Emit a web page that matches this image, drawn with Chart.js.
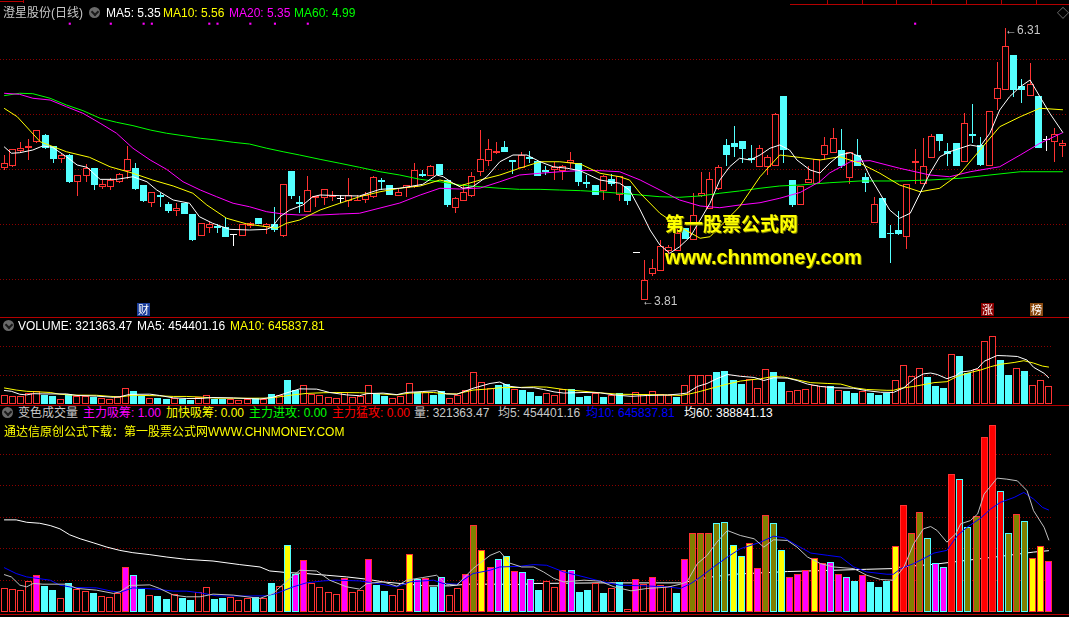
<!DOCTYPE html>
<html>
<head>
<meta charset="utf-8">
<script src="https://cdn.jsdelivr.net/npm/chart.js@4.4.1/dist/chart.umd.min.js"></script>
<style>
body{margin:0;background:#000;}
#wrap{position:relative;width:1069px;height:617px;overflow:hidden;background:#000;font-family:"Liberation Sans","Noto Sans CJK SC",sans-serif;}
canvas{position:absolute;left:0;}
.t{position:absolute;font-size:12px;line-height:14px;white-space:nowrap;z-index:5;}
.ico{position:absolute;width:11px;height:11px;border-radius:50%;background:#6a6a6a;z-index:5;}
.ico:after{content:'';position:absolute;left:3px;top:2px;width:4px;height:4px;border-right:2px solid #1a1a1a;border-bottom:2px solid #1a1a1a;transform:rotate(45deg);}
.hl{position:absolute;height:1px;background:#b40000;z-index:4;}
.vt{position:absolute;width:1px;background:#b40000;z-index:4;}
.tag{position:absolute;width:13px;height:13px;font-size:11px;line-height:13px;text-align:center;color:#fff;z-index:5;font-family:"Noto Sans CJK SC",sans-serif;}
.wm{position:absolute;color:#ffff00;font-weight:bold;z-index:6;white-space:nowrap;text-shadow:1px 1px 0 #7a7a00;}
</style>
</head>
<body>
<div id="wrap">
  <canvas id="price" width="1067" height="298" style="top:18px"></canvas>
  <canvas id="vol" width="1053" height="71" style="top:333px"></canvas>
  <canvas id="ind" width="1053" height="192" style="top:420px"></canvas>

  <div class="hl" style="left:0;width:23px;top:1px"></div>
  <div class="vt" style="left:23px;top:0;height:3px"></div>
  <div class="hl" style="left:790px;width:279px;top:4px"></div>
  <div class="vt" style="left:827px;top:0;height:4px"></div>
  <div class="vt" style="left:862px;top:0;height:4px"></div>
  <div class="vt" style="left:896px;top:0;height:4px"></div>
  <div class="vt" style="left:931px;top:0;height:4px"></div>
  <div class="vt" style="left:966px;top:0;height:4px"></div>
  <div class="vt" style="left:1001px;top:0;height:4px"></div>
  <div class="vt" style="left:1036px;top:0;height:4px"></div>
  <div class="hl" style="left:0;width:1069px;top:317px"></div>
  <div class="hl" style="left:0;width:1069px;top:405px"></div>
  <div class="hl" style="left:0;width:1069px;top:614px"></div>

  <div class="t" style="left:3px;top:6px;color:#c8c8c8">澄星股份(日线)</div>
  <div class="ico" style="left:89px;top:7px"></div>
  <div class="t" style="left:106px;top:6px;color:#ffffff">MA5: 5.35</div>
  <div class="t" style="left:163px;top:6px;color:#ffff00">MA10: 5.56</div>
  <div class="t" style="left:229px;top:6px;color:#ff00ff">MA20: 5.35</div>
  <div class="t" style="left:294px;top:6px;color:#00ff00">MA60: 4.99</div>
  <div class="t" style="left:1057px;top:7px;color:#909090">◇</div>

  <div class="t" style="left:1005px;top:23px;color:#c8c8c8">←6.31</div>
  <div class="t" style="left:642px;top:294px;color:#c8c8c8">←3.81</div>
  <div class="tag" style="left:137px;top:303px;background:#1c3f9c">财</div>
  <div class="tag" style="left:981px;top:303px;background:#8c0000">涨</div>
  <div class="tag" style="left:1030px;top:303px;background:#8a4a10">榜</div>
  <div class="wm" style="left:665px;top:213px;font-size:19px;line-height:20px;font-family:'Noto Sans CJK SC',sans-serif">第一股票公式网</div>
  <div class="wm" style="left:665px;top:247px;font-size:20px;line-height:20px;font-family:'Liberation Sans',sans-serif">www.chnmoney.com</div>

  <div class="ico" style="left:3px;top:320px"></div>
  <div class="t" style="left:18px;top:319px;color:#ffffff">VOLUME: 321363.47</div>
  <div class="t" style="left:137px;top:319px;color:#ffffff">MA5: 454401.16</div>
  <div class="t" style="left:230px;top:319px;color:#ffff00">MA10: 645837.81</div>

  <div class="ico" style="left:2px;top:407px"></div>
  <div class="t" style="left:18px;top:406px;color:#c8c8c8">变色成交量</div>
  <div class="t" style="left:83px;top:406px;color:#ff00ff">主力吸筹: 1.00</div>
  <div class="t" style="left:166px;top:406px;color:#ffff00">加快吸筹: 0.00</div>
  <div class="t" style="left:249px;top:406px;color:#00ff00">主力进攻: 0.00</div>
  <div class="t" style="left:332px;top:406px;color:#ff0000">主力猛攻: 0.00</div>
  <div class="t" style="left:414px;top:406px;color:#c8c8c8">量: 321363.47</div>
  <div class="t" style="left:498px;top:406px;color:#c8c8c8">均5: 454401.16</div>
  <div class="t" style="left:586px;top:406px;color:#0000ff">均10: 645837.81</div>
  <div class="t" style="left:684px;top:406px;color:#ffffff">均60: 388841.13</div>
  <div class="t" style="left:4px;top:425px;color:#ffff00">通达信原创公式下载：第一股票公式网WWW.CHNMONEY.COM</div>
</div>

<script>
// daily candles, 130 sessions
const opens = [5.02,5.04,5.18,5.21,5.26,5.33,5.23,5.11,5.14,4.90,
4.95,5.02,4.85,4.85,4.90,5.00,5.02,4.87,4.70,4.78,
4.69,4.63,4.70,4.60,4.40,4.47,4.49,4.48,4.41,4.40,
4.49,4.56,4.48,4.51,4.40,5.00,4.71,4.62,4.75,4.75,
4.76,4.74,4.72,4.72,4.73,4.76,4.91,4.87,4.77,4.84,
4.85,4.97,4.95,5.06,4.91,4.66,4.72,4.77,4.99,5.09,
5.16,5.22,5.10,5.02,5.13,5.09,5.01,5.01,5.00,5.07,
5.07,4.90,4.87,4.81,4.92,4.78,4.86,4.24,3.81,4.05,
4.08,4.26,4.26,4.47,4.36,4.77,4.65,4.83,5.24,5.25,
5.27,5.12,5.03,5.03,5.04,5.69,4.91,4.68,4.89,4.88,
5.14,5.16,5.19,4.93,5.14,4.94,4.52,4.75,4.43,4.45,
4.39,5.07,4.88,5.12,5.34,5.18,5.25,5.08,5.34,5.24,
5.04,5.66,5.74,6.06,5.78,5.69,5.69,5.28,5.26,5.23];
const highs = [5.14,5.20,5.26,5.29,5.37,5.34,5.23,5.15,5.15,4.96,
5.06,5.02,4.91,4.93,4.98,5.23,5.07,4.87,4.80,4.79,
4.71,4.70,4.70,4.60,4.52,4.53,4.51,4.56,4.42,4.51,
4.53,4.56,4.52,4.67,4.88,5.00,4.77,4.95,4.77,4.83,
4.81,4.78,4.93,4.78,4.80,4.95,4.93,4.87,4.83,4.87,
5.07,5.01,5.05,5.06,4.91,4.76,4.88,4.99,5.37,5.29,
5.26,5.27,5.10,5.17,5.18,5.10,5.04,5.08,5.05,5.17,
5.07,4.96,4.87,4.96,4.97,4.95,4.86,4.24,4.18,4.19,
4.36,4.32,4.49,4.47,4.79,4.99,4.99,5.05,5.29,5.41,
5.27,5.24,5.24,5.14,5.53,5.69,4.91,4.86,5.04,5.11,
5.31,5.39,5.38,5.17,5.29,4.98,4.76,4.75,4.50,4.63,
4.88,5.20,5.30,5.34,5.34,5.25,5.25,5.53,5.61,5.31,
5.55,6.00,6.31,6.06,5.84,5.99,5.69,5.32,5.39,5.28];
const lows = [5.01,5.03,5.17,5.10,5.25,5.20,5.07,5.07,4.89,4.77,
4.90,4.82,4.83,4.82,4.89,4.92,4.82,4.71,4.67,4.67,
4.61,4.58,4.60,4.35,4.40,4.43,4.43,4.39,4.31,4.40,
4.47,4.51,4.42,4.44,4.39,4.74,4.61,4.62,4.67,4.68,
4.72,4.70,4.67,4.72,4.70,4.75,4.82,4.78,4.77,4.76,
4.84,4.94,4.95,4.96,4.67,4.61,4.72,4.76,4.95,5.04,
5.15,5.17,4.97,5.02,5.07,4.95,4.96,4.91,4.91,5.02,
4.86,4.84,4.78,4.73,4.86,4.72,4.68,4.24,3.81,4.03,
4.08,4.14,4.26,4.37,4.36,4.76,4.65,4.82,5.04,5.13,
5.07,5.07,5.03,4.96,5.04,5.07,4.67,4.68,4.89,4.88,
5.10,5.16,5.02,4.88,5.04,4.80,4.52,4.38,4.15,4.41,
4.28,4.88,4.88,5.12,5.18,5.04,5.04,5.08,5.25,5.04,
5.04,5.56,5.74,5.68,5.62,5.69,5.21,5.18,5.08,5.13];
const closes = [5.07,5.20,5.21,5.23,5.37,5.21,5.11,5.14,4.90,4.96,
5.02,4.87,4.88,4.91,4.97,5.11,4.83,4.72,4.80,4.76,
4.63,4.66,4.60,4.36,4.52,4.51,4.47,4.39,4.41,4.51,
4.52,4.51,4.51,4.45,4.88,4.77,4.69,4.82,4.77,4.83,
4.77,4.74,4.78,4.73,4.78,4.94,4.90,4.78,4.80,4.87,
5.01,4.95,5.04,4.96,4.68,4.75,4.80,4.95,5.11,5.20,
5.18,5.17,5.08,5.14,5.11,4.95,4.99,5.03,5.04,5.10,
4.90,4.88,4.78,4.95,4.88,4.95,4.72,4.24,3.99,4.10,
4.31,4.30,4.43,4.37,4.59,4.79,4.92,5.03,5.14,5.22,
5.20,5.10,5.21,5.13,5.52,5.19,4.68,4.86,4.92,5.11,
5.24,5.30,5.04,5.17,5.04,4.89,4.69,4.38,4.42,4.42,
4.88,5.09,5.04,5.32,5.27,5.15,5.04,5.44,5.32,5.05,
5.55,5.76,6.15,5.74,5.74,5.80,5.21,5.28,5.34,5.25];

const volumes = [149300,143000,136700,199700,233100,163800,138600,86300,180800,146800,
134200,117800,100800,92600,117800,283500,233100,144900,105200,100800,
81900,113400,86300,75600,127900,155600,80000,90100,94500,73700,
90100,96400,88200,180800,163800,422100,241300,327600,180800,157500,
124100,113400,216100,124100,136700,333900,170100,132300,105200,143000,
365400,207900,216100,157500,222400,105200,151200,239400,554400,390600,
283500,333900,352800,258300,252000,207900,138600,195300,157500,264600,
264600,126000,138600,184600,119700,149300,189000,18900,207900,176400,
220500,168200,163800,119700,333900,504000,504000,504000,567000,573300,
422100,352800,434700,277200,617400,567000,390600,220500,239400,264600,
340200,308700,315000,239400,220500,195300,233100,189000,157500,197200,
415800,680400,497700,636300,466200,308700,283500,875700,844200,541800,
611100,1108800,1184400,768600,504000,623700,579600,340200,415800,321363];

// indicator signal per session: M 主力吸筹, Y 加快吸筹, O 主力进攻, R 主力猛攻, . none
const signals = ("....M....." + ".....MM..." + ".........." + ".....YMM.." + "..M..M...." +
  "YMM.M..MOY" + "MMYMMM...M" + "M.......M." + "M...MOOOOO" + "YYYMOOYMMM" +
  "YMMMM.M..." + "YROOOMMRRO" + "ORRROOOYYM").split('');

// magenta marks along the top of the price panel
const markDays = [8,13,17,18,25,26,30,33,37,111];
const markLevel = 6.352;

// moving average lines: [session, value]
const ma5 = [[0,5.22],[0.9,5.16],[1.9,5.165],[3.5,5.19],[4.7,5.227],[5.9,5.215],[7.6,5.128],[8.9,5.052],[10.1,5.031],[11.7,4.92],[13.7,4.92],[15.7,4.944],[17.4,4.898],[18.6,4.822],[20.6,4.73],[22.6,4.70],[23.8,4.576],[25.4,4.516],[27.5,4.46],[29.9,4.454],[32,4.46],[32.7,4.484],[33.6,4.576],[34.8,4.638],[36.4,4.684],[37.6,4.76],[38.5,4.776],[40.9,4.77],[43.3,4.767],[45.8,4.828],[48.2,4.838],[49.8,4.859],[51,4.874],[52.7,4.96],[53.5,4.944],[54.7,4.884],[55.9,4.838],[57.1,4.852],[58.8,4.944],[60.4,5.082],[62,5.144],[63.7,5.144],[65.3,5.082],[66.9,5.036],[68.6,5.022],[70.2,4.999],[72.6,4.914],[75,4.884],[76.2,4.822],[77.5,4.638],[78.7,4.454],[79.9,4.316],[81.1,4.24],[82.3,4.30],[83.6,4.392],[84.8,4.546],[86,4.70],[87.2,4.914],[88.4,5.036],[89.6,5.114],[90.9,5.098],[92.1,5.144],[93.3,5.206],[94.5,5.236],[95.7,5.19],[96.6,5.098],[98.2,5.006],[99.4,4.978],[100.6,5.07],[101.8,5.144],[103.1,5.165],[104.3,5.128],[105.5,4.944],[106.7,4.792],[107.9,4.638],[109.1,4.562],[110.4,4.608],[111.6,4.792],[112.8,4.976],[114,5.128],[115.2,5.174],[116.5,5.206],[117.7,5.236],[118.9,5.22],[120.1,5.344],[121.3,5.558],[122.5,5.68],[123.8,5.772],[125,5.834],[126.2,5.68],[127.4,5.528],[129,5.35]];
const ma10 = [[0,5.574],[1.6,5.496],[4.4,5.266],[7.6,5.174],[10.4,5.123],[12.9,5.036],[15.7,4.976],[18.1,4.914],[20.6,4.859],[23,4.792],[24.7,4.684],[27.1,4.562],[29.6,4.509],[32,4.484],[33.2,4.47],[34.4,4.516],[36,4.546],[38.5,4.638],[40.9,4.70],[43.3,4.76],[45.8,4.806],[48.2,4.838],[50.7,4.859],[53.1,4.914],[54.7,4.884],[55.5,4.859],[58,4.914],[60.4,4.96],[62.8,5.022],[65.3,5.082],[67.7,5.082],[70.2,5.061],[72.6,4.976],[75,4.944],[76.2,4.914],[77.5,4.792],[79.9,4.608],[82.3,4.484],[84.8,4.378],[86,4.392],[87.2,4.484],[89.6,4.668],[92.1,4.944],[94.5,5.144],[97,5.121],[99.4,5.098],[101.8,5.128],[104.3,5.068],[106.7,4.976],[109.1,4.868],[111.6,4.806],[114,4.838],[116.5,4.976],[118.9,5.19],[121.3,5.404],[123.8,5.496],[126.2,5.574],[129,5.56]];
const ma20 = [[0,5.712],[1.9,5.702],[3.5,5.666],[5.6,5.65],[7.6,5.588],[9.6,5.528],[11.7,5.436],[13.7,5.344],[15.7,5.206],[17.8,5.098],[19.8,5.012],[21.8,4.898],[23.9,4.822],[25.9,4.76],[27.9,4.70],[29.9,4.668],[32,4.622],[34,4.601],[36,4.592],[38.5,4.592],[40.9,4.601],[43.3,4.608],[45.8,4.656],[48.2,4.702],[50.7,4.776],[53.1,4.838],[55.5,4.831],[58,4.84],[60.4,4.898],[62.8,4.96],[65.3,4.976],[67.7,4.99],[70.2,5.001],[72.6,5.0],[75,4.99],[77.5,4.914],[79.9,4.822],[82.3,4.73],[84.8,4.675],[87.2,4.659],[89.6,4.684],[92.1,4.705],[94.5,4.746],[97,4.80],[98.2,4.85],[99.4,4.90],[100.6,4.98],[103.1,5.082],[105.5,5.092],[109.1,5.022],[112.8,4.96],[115.2,4.944],[117.7,4.99],[121.3,5.036],[123.8,5.144],[126.2,5.252],[129,5.35]];
const ma60 = [[0,5.69],[1.9,5.712],[3.5,5.708],[5.6,5.666],[7.6,5.604],[9.6,5.552],[11.7,5.482],[13.7,5.445],[15.7,5.414],[17.8,5.374],[19.8,5.344],[21.8,5.322],[23.9,5.298],[25.9,5.282],[27.9,5.261],[29.9,5.245],[32,5.206],[34,5.174],[36,5.144],[38.5,5.104],[40.9,5.068],[43.3,5.031],[45.8,4.99],[48.2,4.96],[50.7,4.92],[53.1,4.898],[55.5,4.868],[58,4.852],[60.4,4.838],[62.8,4.828],[65.3,4.828],[67.7,4.822],[70.2,4.816],[72.6,4.806],[75,4.792],[77.5,4.776],[79.9,4.76],[82.3,4.755],[84.8,4.767],[87.2,4.792],[89.6,4.813],[92.1,4.838],[94.5,4.859],[97,4.868],[100.6,4.889],[104.3,4.905],[109.1,4.905],[112.8,4.914],[116.5,4.93],[120.1,4.96],[123.8,4.99],[129,4.99]];

// volume averages: [session, shares]
const volMa5 = [[0,237500],[0.9,222400],[1.95,170100],[2.8,159400],[3.6,180800],[4.8,176400],[7.7,176400],[9,149300],[11.4,138600],[13.5,117800],[14.3,127900],[15.5,168200],[18,172000],[19.2,149300],[20.9,107100],[22.5,96400],[24.2,96400],[25.8,113400],[28.3,107100],[31.6,86300],[33.2,117800],[35.3,212300],[36.5,264600],[38.6,260200],[40.2,201600],[42.3,159400],[43.9,144900],[44.8,180800],[46.8,190900],[48.5,163800],[49.7,201600],[51.7,218600],[53.4,233100],[54.6,176400],[55.9,170100],[57.9,275300],[60,359100],[61.2,384300],[62.4,310600],[63.9,285400],[65.4,285400],[66.6,253900],[67.9,212300],[69.1,190900],[71.6,201600],[73.6,195300],[75.3,159400],[77.4,134200],[79.4,149300],[81.9,157500],[83.5,176400],[84.3,190900],[85.6,306800],[86.8,359100],[88,442900],[89.3,516600],[90.9,485100],[92.6,464300],[93.8,411400],[95,458000],[96.7,453600],[97.9,411400],[99.2,348400],[100.8,306800],[102.4,285400],[104.9,275300],[106.5,233100],[108.2,206000],[109.8,201600],[111.1,285400],[112.3,432800],[113.5,527300],[114.4,541800],[115.2,516600],[116.4,442900],[117.5,495800],[118.1,558800],[119.3,579600],[120.2,621800],[121,747800],[122.6,848600],[123.8,842300],[125.1,831600],[126.3,768600],[127.1,642600],[128.4,537400],[129,454401]];
const volMa10 = [[0,281600],[1.5,243800],[2.8,222400],[5.7,201600],[6.9,170100],[8.5,155600],[11.4,153100],[13.1,134200],[14.3,124100],[15.9,153100],[18.8,144900],[20.9,132300],[22.5,132300],[24.2,121600],[26.2,102700],[28.3,100800],[32.4,102700],[33.6,117800],[35.7,159400],[37.3,184600],[39.4,197200],[41,201600],[43.9,197200],[46,180800],[48.5,159400],[50.1,190900],[53,201600],[54.2,180800],[55.9,176400],[57.9,243800],[60,264600],[61.2,285400],[63.7,289800],[65.4,300500],[67,296100],[69.1,253900],[71.6,222400],[73.6,195300],[76,170100],[79,165700],[81.9,159400],[83.5,149300],[84.8,180800],[86,222400],[87.6,285400],[89.3,348400],[90.9,401300],[93.4,442900],[95,480700],[96.3,470600],[97.9,422100],[99.6,373600],[101.7,359100],[103.3,348400],[104.9,285400],[106.5,253900],[109,239400],[109.8,239400],[110.7,275300],[112.3,306800],[113.9,348400],[114.8,373600],[116.4,390600],[117.7,485100],[118.9,537400],[120.6,596600],[121.8,653300],[123,694900],[124.7,726400],[125.9,757900],[127.1,716300],[128.2,663400],[129,645837]];
const volMa60 = [[0,584000],[1.5,584000],[2.8,568900],[4.4,562600],[5.7,548100],[6.9,527300],[8.1,489500],[9.4,464300],[11,439100],[12.7,411400],[14.3,390600],[15.9,376100],[18,363500],[20.1,348400],[22.5,333900],[25.8,323200],[29.1,300500],[31.6,285400],[32.8,260200],[34.9,250100],[37.3,243800],[39.8,233100],[42.3,222400],[44.8,207900],[46.8,190900],[48.9,180800],[52.2,165700],[55,165700],[57.1,176400],[61.2,176400],[63.9,174500],[65.4,180800],[73.6,184600],[83.9,184600],[84.8,197200],[86.8,218600],[90.1,239400],[94.2,250100],[96.7,256400],[102.4,264600],[106.5,270900],[109.8,275300],[110.7,285400],[114.8,302400],[118.9,327600],[123,352800],[127.1,379900],[129,388841]];

// gridline levels
const priceGrid = [4.001, 4.507, 5.013, 5.519, 6.025];
const volGrid = [500000, 1000000];
const indGrid = [200000, 400000, 600000, 800000, 1000000];

const UP = '#ff3232', DOWN = '#54ffff', FLAT = '#ffffff';
const sigColors = { M: '#ff00ff', Y: '#ffff00', O: '#808000', R: '#ff0000' };
const days = opens.map((_, i) => i);

function dirColor(i) {
    if (closes[i] > opens[i]) return UP;
    if (closes[i] < opens[i]) return DOWN;
    return FLAT;
}
function xy(pairs) {
    return pairs.map(p => ({x: p[0], y: p[1]}));
}
function line(pairs, color, order) {
    return {
        type: 'line', data: xy(pairs), borderColor: color, borderWidth: 1,
        pointRadius: 0, pointHoverRadius: 0, tension: 0, order: order
    };
}
function xScale() {
    return { type: 'linear', min: -0.5, max: days.length - 0.5, offset: false, bounds: 'data', display: false };
}
function yScale(min, max, levels) {
    return {
        min: min, max: max,
        afterBuildTicks: s => { s.ticks = levels.map(v => ({value: v})); },
        afterFit: s => { s.width = 0; },
        ticks: { display: false },
        border: { display: false, dash: [1, 2] },
        grid: { color: '#8c0000', lineWidth: 1, drawTicks: false, tickLength: 0 }
    };
}

// snap bar edges to whole pixels so the thin outlines and wicks stay crisp
const snapBars = {
    id: 'snapBars',
    afterDatasetsUpdate(chart) {
        chart.data.datasets.forEach((ds, di) => {
            const meta = chart.getDatasetMeta(di);
            if (meta.type !== 'bar') return;
            meta.data.forEach(el => {
                el.x = Math.floor(el.x) + 0.5;
                let y = Math.round(el.y), b = Math.round(el.base);
                if (y === b) y = b - 1;
                el.y = y;
                el.base = b;
            });
        });
    }
};

const baseOptions = {
    responsive: false,
    animation: false,
    events: [],
    layout: { padding: 0, autoPadding: false },
    plugins: { legend: { display: false }, tooltip: { enabled: false } }
};

// Price panel
new Chart(document.getElementById('price'), {
    type: 'bar',
    plugins: [snapBars],
    data: {
        datasets: [
            line(ma5, '#ffffff', 0),
            line(ma10, '#ffff00', 0),
            line(ma20, '#ff00ff', 0),
            line(ma60, '#00ff00', 0),
            {
                type: 'scatter',
                data: markDays.map(d => ({x: d, y: markLevel})),
                pointStyle: 'rect', pointRadius: 1.5, pointHoverRadius: 0, borderWidth: 0,
                backgroundColor: '#ff00ff', order: 0
            },
            {
                data: days.map(i => ({x: i, y: [opens[i], closes[i]]})),
                backgroundColor: days.map(i => dirColor(i) === UP ? '#000000' : dirColor(i)),
                borderColor: days.map(dirColor),
                borderWidth: 1, borderSkipped: false, inflateAmount: 0,
                barThickness: 7, minBarLength: 1, grouped: false, order: 1
            },
            {
                data: days.map(i => ({x: i, y: [lows[i], highs[i]]})),
                backgroundColor: days.map(dirColor),
                borderWidth: 0, inflateAmount: 0,
                barThickness: 1, grouped: false, order: 2
            }
        ]
    },
    options: Object.assign({}, baseOptions, {
        scales: { x: xScale(), y: yScale(3.6628, 6.4044, priceGrid) }
    })
});

// Volume panel
new Chart(document.getElementById('vol'), {
    type: 'bar',
    plugins: [snapBars],
    data: {
        datasets: [
            line(volMa5, '#ffffff', 0),
            line(volMa10, '#ffff00', 0),
            {
                data: days.map(i => ({x: i, y: volumes[i]})),
                backgroundColor: days.map(i => dirColor(i) === DOWN ? DOWN : '#000000'),
                borderColor: days.map(i => dirColor(i) === DOWN ? DOWN : UP),
                borderWidth: 1, borderSkipped: false, inflateAmount: 0,
                barThickness: 7, grouped: false, order: 1
            }
        ]
    },
    options: Object.assign({}, baseOptions, {
        scales: { x: xScale(), y: yScale(0, 1242500, volGrid) }
    })
});

// 变色成交量 panel
new Chart(document.getElementById('ind'), {
    type: 'bar',
    plugins: [snapBars],
    data: {
        datasets: [
            line(volMa5, '#c0c0c0', 0),
            line(volMa10, '#0000ff', 0),
            line(volMa60, '#ffffff', 3),
            {
                data: days.map(i => ({x: i, y: volumes[i]})),
                backgroundColor: days.map(i => {
                    if (sigColors[signals[i]]) return sigColors[signals[i]];
                    return dirColor(i) === DOWN ? DOWN : '#000000';
                }),
                borderColor: days.map(i => dirColor(i) === DOWN ? DOWN : UP),
                borderWidth: 1, borderSkipped: false, inflateAmount: 0,
                barThickness: 7, grouped: false, order: 1
            }
        ]
    },
    options: Object.assign({}, baseOptions, {
        scales: { x: xScale(), y: yScale(0, 1217280, indGrid) }
    })
});
</script>
</body>
</html>
